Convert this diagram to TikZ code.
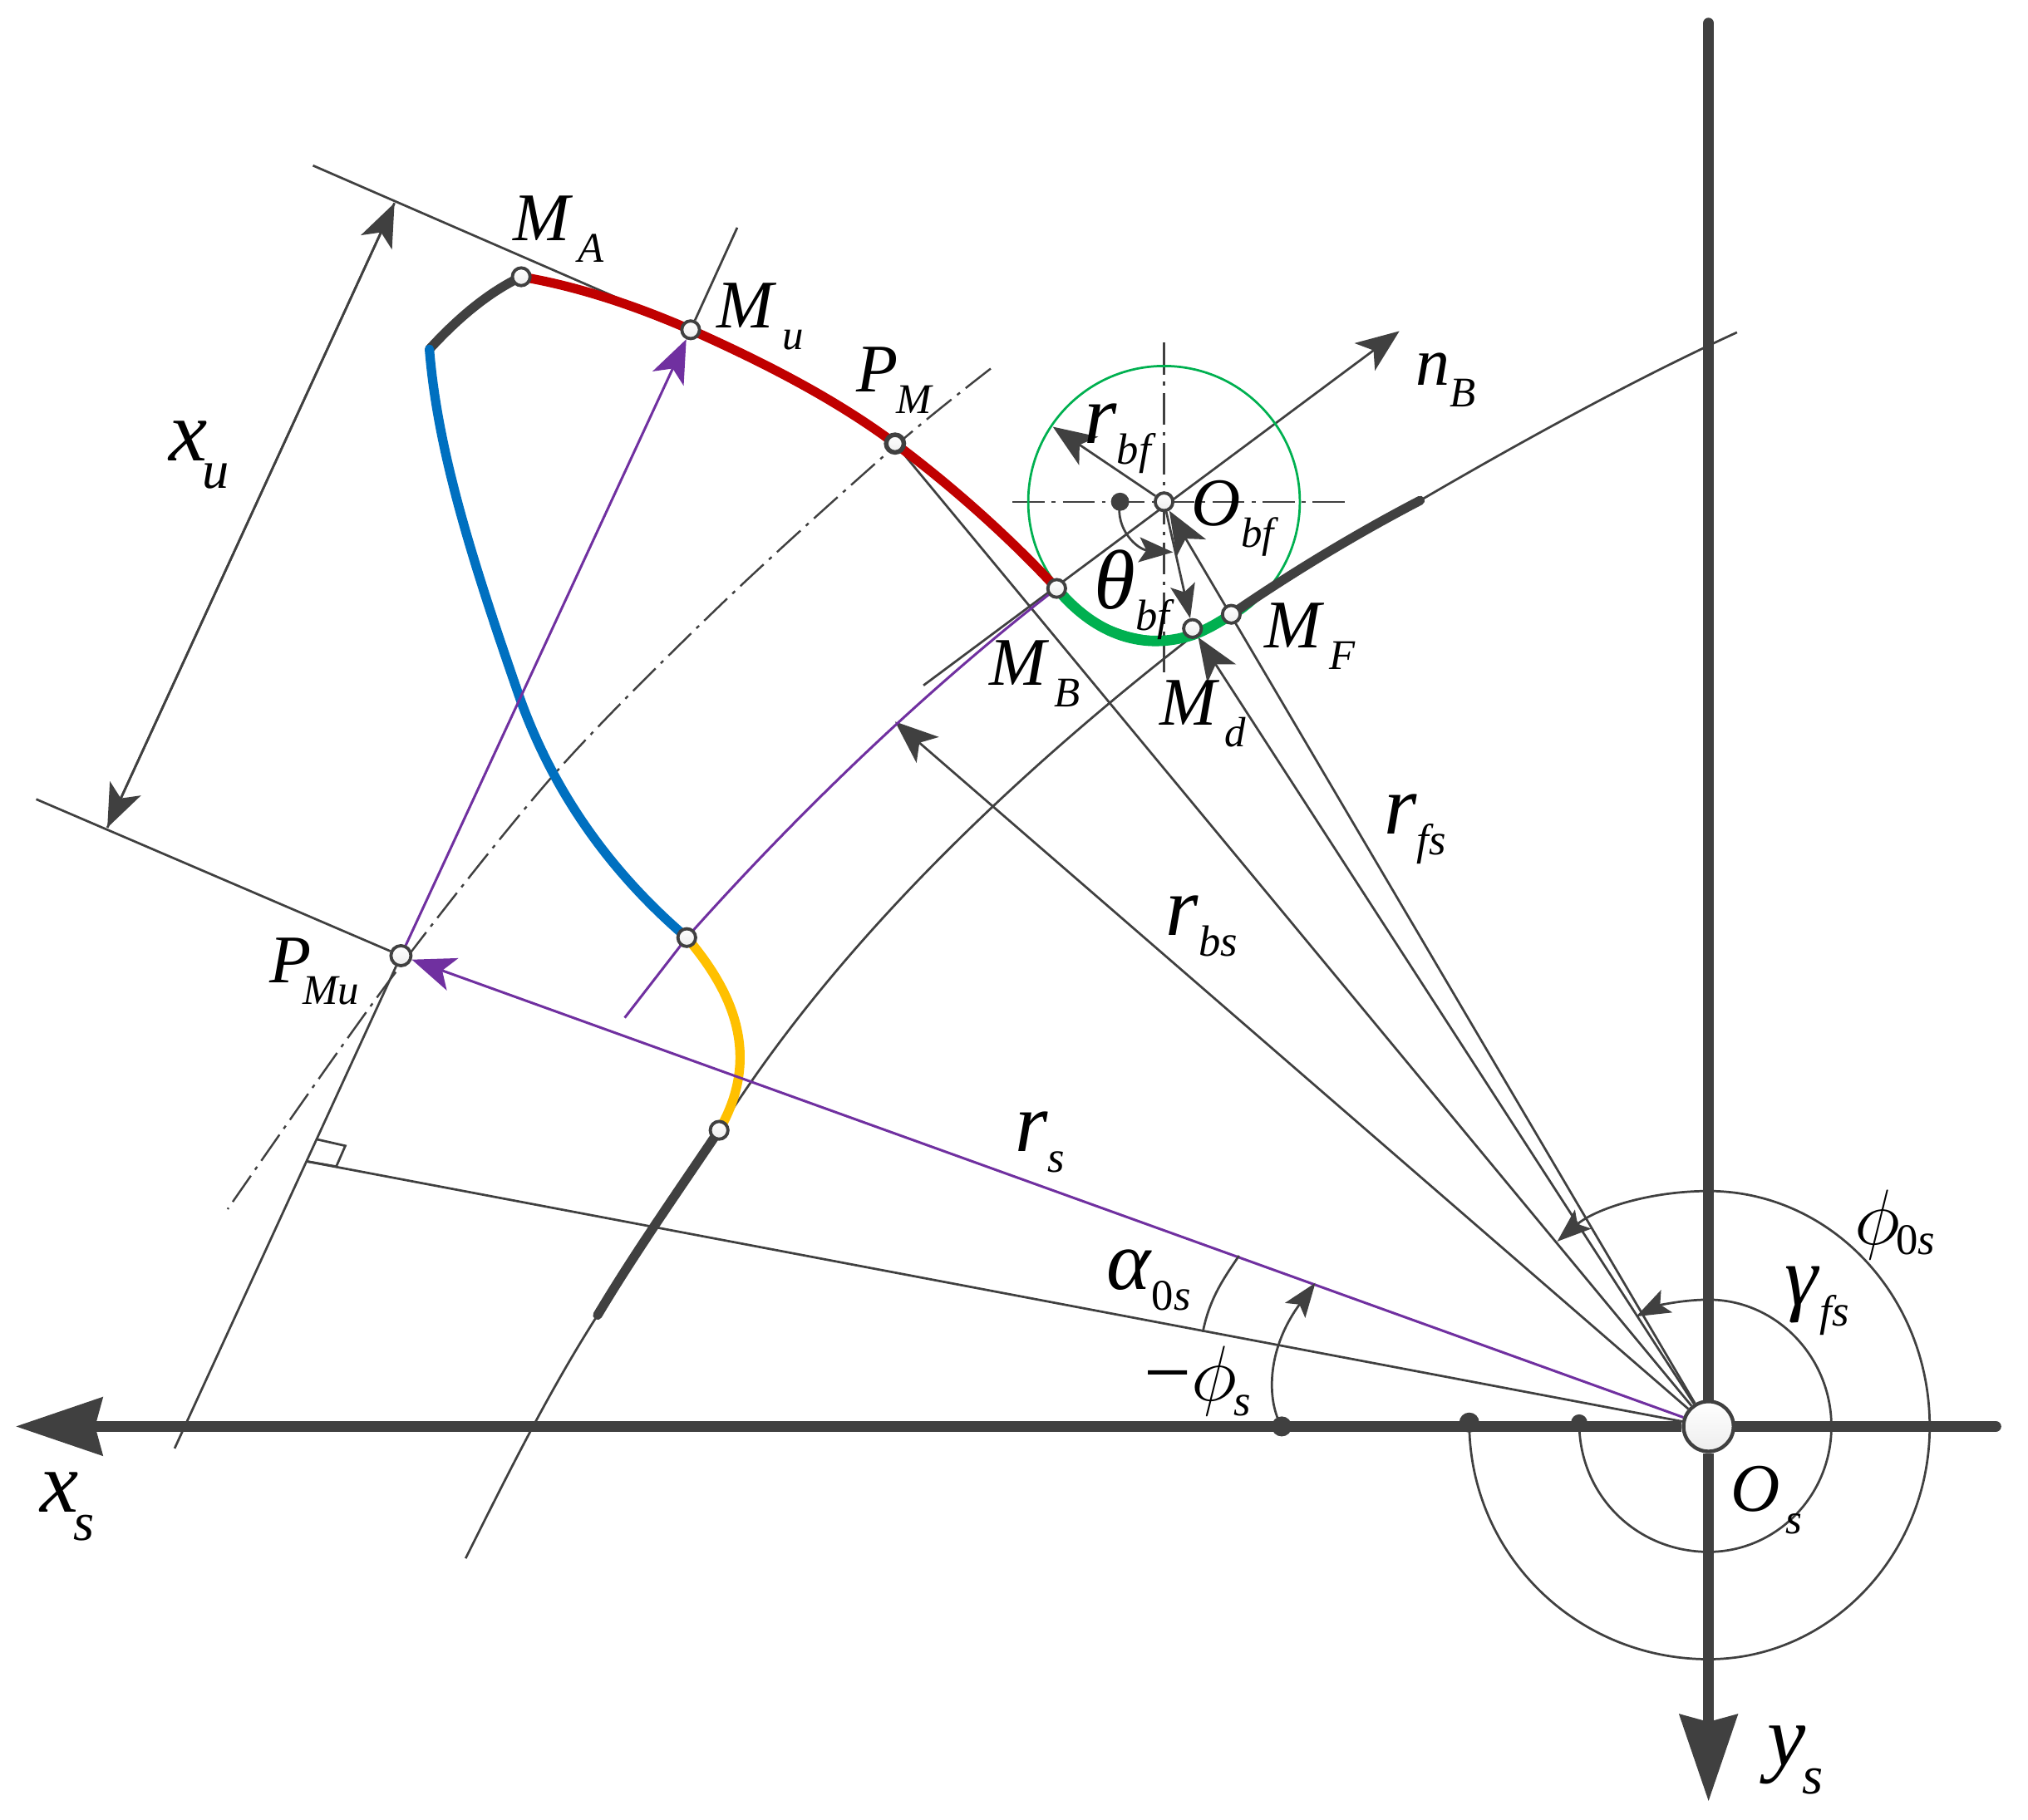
\documentclass[tikz,border=0pt]{standalone}
\usepackage{fontspec}
\setmainfont{Liberation Serif}
\definecolor{darkline}{RGB}{64, 64, 64}
\definecolor{toothred}{RGB}{192, 0, 0}
\definecolor{toothblue}{RGB}{0, 112, 192}
\definecolor{toothgold}{RGB}{255, 192, 0}
\definecolor{toothgreen}{RGB}{0, 176, 80}
\definecolor{basepurple}{RGB}{112, 48, 160}
\usetikzlibrary{arrows.meta, backgrounds, calc}
\newcommand{\sym}[3][0.08em]{\textit{#2}\kern#1\raisebox{-0.32em}{\scalebox{0.62}{\textit{#3}}}}
\newcommand{\symg}[3][0.25em]{\textit{#2}\raisebox{-#1}{\scalebox{0.52}{\textit{#3}}}}

\begin{document}
\begin{tikzpicture}[
    x=0.1mm, y=-0.1mm,
    thinline/.style={darkline, line width=0.5pt},
    axisline/.style={darkline, line width=2.45pt},
    thickcurve/.style={line width=2.05pt, line cap=round},
    centerline/.style={darkline, line width=0.45pt, dash pattern=on 7pt off 1.6pt on 0.8pt off 1.6pt},
    purpleline/.style={basepurple, line width=0.55pt},
    arrow/.style={-{Stealth[length=9.5pt, width=7.5pt, inset=2.4pt]}},
    smallarrow/.style={-{Stealth[length=7.5pt, width=5.5pt, inset=1.6pt]}},
    axisarrow/.style={-{Stealth[length=19pt, width=12.5pt, inset=1.5pt]}},
    marker/.style={circle, draw=darkline, line width=0.7pt, top color=white, bottom color=black!7,
                   minimum size=3.9pt, inner sep=0pt},
    dotmark/.style={circle, fill=darkline, inner sep=0pt},
    lab/.style={font=\fontsize{15}{18}\selectfont, inner sep=0pt},
    greeklab/.style={font=\fontsize{18.5}{22}\selectfont, inner sep=0pt},
    biglab/.style={font=\fontsize{19}{23}\selectfont, inner sep=0pt}
]
    \useasboundingbox (0,0) rectangle (1568,1407);

    % points on the profile
    \node[marker, minimum size=11pt, line width=0.8pt] (Os) at (1321,1103) {};
    \node[marker] (Obf) at (900,388) {};
    \node[marker] (MA) at (403,214) {};
    \node[marker] (Mu) at (534,255) {};
    \node[marker, line width=1pt] (PM) at (692,343) {};
    \node[marker] (MB) at (817,455) {};
    \node[marker] (Md) at (922,486) {};
    \node[marker] (MF) at (952,475) {};
    \node[marker] (blueend) at (531,725) {};
    \node[marker] (goldend) at (556,874) {};
    \node[marker, minimum size=4.4pt] (PMu) at (310,739) {};
    \node[dotmark, minimum size=4.4pt] (dotphi) at (991,1103) {};
    \node[dotmark, minimum size=4.4pt] (dotphizero) at (1136,1100) {};
    \node[dotmark, minimum size=3.6pt] (dotgamma) at (1221,1100) {};
    \node[dotmark, minimum size=4pt] (dottheta) at (866,388) {};

    \node[lab] (labMA) at (432,177) {\sym{M}{A}};
    \node[lab] (labMu) at (588,245) {\sym{M}{u}};
    \node[lab] (labPM) at (692,294) {\sym[-0.02em]{P}{M}};
    \node[greeklab] (labrbf) at (866,339) {\symg{r}{bf}};
    \node[lab] (labObf) at (955,401) {\sym[0em]{O}{bf}};
    \node[greeklab] (labtheta) at (877,460) {\symg{θ}{bf}};
    \node[lab] (labMF) at (1013,492) {\sym{M}{F}};
    \node[lab] (labMB) at (800,521) {\sym{M}{B}};
    \node[lab] (labMd) at (930,552) {\sym{M}{d}};
    \node[lab] (labnB) at (1118,294) {\sym[0em]{n}{B}};
    \node[greeklab] (labrfs) at (1094,641) {\symg{r}{fs}};
    \node[greeklab] (labrbs) at (929,716) {\symg{r}{bs}};
    \node[greeklab] (labrs) at (804,883) {\symg{r}{s}};
    \node[greeklab] (labalpha) at (888,990) {\symg{α}{\textup{0}s}};
    \node[greeklab] (labphizero) at (1465,947) {\symg[0.12em]{$\phi$\kern-0.05em}{\textup{0}s}};
    \node[greeklab] (labgamma) at (1405,1006) {\symg{γ}{fs}};
    \node[greeklab] (labphi) at (926,1068) {−\symg[0.18em]{$\phi$\kern-0.04em}{s}};
    \node[lab] (labPMu) at (243,751) {\sym[-0.12em]{P}{Mu}};
    \node[lab] (labOs) at (1366,1160) {\sym{O}{s}};
    \node[biglab] (labxu) at (154,352) {\sym[-0.06em]{x}{u}};
    \node[biglab] (labxs) at (52,1165) {\sym[-0.06em]{x}{s}};
    \node[biglab] (labys) at (1388,1361) {\sym[-0.04em]{y}{s}};

    \coordinate (xtip) at (12,1103);
    \coordinate (xright) at (1543,1103);
    \coordinate (ytip) at (1321,1393);
    \coordinate (ytop) at (1321,18);
    \coordinate (upperstart) at (242,128);
    \coordinate (lowerstart) at (28,618);
    \coordinate (muend) at (570,176);
    \coordinate (pmuend) at (135,1120);
    \coordinate (xuA) at (305,157);
    \coordinate (xuB) at (83,640);
    \coordinate (foot) at (237,898);
    \coordinate (rbstip) at (692,558);
    \coordinate (rbftip) at (814,330);
    \coordinate (nBstart) at (714,530);
    \coordinate (nBtip) at (1082,256);

    \begin{scope}[on background layer]
        % axes
        \draw[axisline, axisarrow] (Os) -- (xtip);
        \draw[axisline, axisarrow] (Os) -- (ytip);
        \draw[axisline, line cap=round] (Os) -- (xright);
        \draw[axisline, line cap=round] (Os) -- (ytop);

        % construction lines
        \draw[thinline] (upperstart) -- (Mu);
        \draw[thinline] (lowerstart) -- (PMu);
        \draw[thinline] (muend) -- (Mu);
        \draw[thinline] (PMu) -- (pmuend);
        \draw[thinline] (PM) -- (Os);
        \draw[thinline] (Os) -- (foot);
        \draw[thinline] (foot) -- (260,902) -- (267,886) -- (245,881);
        \draw[thinline, arrow] (xuA) -- (xuB);
        \draw[thinline, arrow] (xuB) -- (xuA);
        \draw[thinline, arrow] (Os) -- (rbstip);
        \draw[thinline, arrow] (Os) -- (Md);
        \draw[thinline, arrow] (Os) -- (Obf);
        \draw[thinline, smallarrow] (Obf) -- (Md);
        \draw[thinline, arrow] (Obf) -- (rbftip);
        \draw[thinline, arrow] (nBstart) -- (nBtip);

        % center lines and pitch curve
        \draw[centerline] (783,388) -- (1042,388);
        \draw[centerline] (900,265) -- (900,520);
        \draw[centerline] plot[smooth] coordinates {(766,285) (692,345) (560,465) (430,597) (302,757) (176,935)};
        \draw[toothgreen, line width=0.5pt] (Obf.center) circle[radius=105];

        % base and root curves
        \draw[purpleline] (483,787) -- (blueend.center) .. controls (620,625) and (720,530) .. (MB.center);
        \draw[thinline] (360,1205) .. controls (395,1135) and (425,1075) .. (462,1017)
            .. controls (490,970) and (525,920) .. (goldend.center)
            .. controls (640,740) and (770,610) .. (922,492);
        \draw[thinline] (MF.center) .. controls (1000,442) and (1050,412) .. (1098,387)
            .. controls (1170,345) and (1260,295) .. (1343,257);

        % tooth profile
        \draw[darkline, thickcurve] (462,1017) .. controls (490,970) and (525,920) .. (goldend.center);
        \draw[darkline, thickcurve] (MF.center) .. controls (1000,442) and (1050,412) .. (1098,387);
        \draw[darkline, thickcurve] (332,270) .. controls (355,245) and (378,226) .. (MA.center);
        \draw[toothred, thickcurve] (MA.center) .. controls (450,222) and (495,238) .. (Mu.center)
            .. controls (590,280) and (645,308) .. (PM.center)
            .. controls (735,375) and (780,415) .. (MB.center);
        \draw[toothblue, thickcurve] (332,270) .. controls (338,345) and (362,425) .. (402,540)
            .. controls (420,590) and (455,660) .. (blueend.center);
        \draw[toothgold, thickcurve] (blueend.center) .. controls (565,765) and (590,815) .. (goldend.center);
        \draw[toothgreen, thickcurve, line width=2.3pt] (MB.center) .. controls (848,492) and (885,503) .. (922,491)
            .. controls (933,487) and (943,481) .. (MF.center);

        % purple radii
        \draw[purpleline, arrow] (Os) -- (PMu);
        \draw[purpleline, arrow] (PMu) -- (Mu);

        % angles
        \draw[thinline] (dotphizero.center) .. controls (1136,1202) and (1219,1283) .. (1321,1283)
            .. controls (1415,1283) and (1492,1202) .. (1492,1103)
            .. controls (1492,1002) and (1415,921) .. (1321,921);
        \draw[thinline, smallarrow] (1321,921) .. controls (1275,921) and (1233,935) .. (1204,960);
        \draw[thinline] (dotgamma.center) .. controls (1221,1157) and (1266,1200) .. (1321,1200)
            .. controls (1373,1200) and (1416,1157) .. (1416,1103)
            .. controls (1416,1049) and (1373,1005) .. (1321,1005);
        \draw[thinline, smallarrow] (1321,1005) .. controls (1300,1005) and (1281,1010) .. (1265,1018);
        \draw[thinline, smallarrow] (dotphi.center) .. controls (980,1085) and (978,1045) .. (1017,992);
        \draw[thinline] (930,1030) .. controls (935,1005) and (945,990) .. (958,971);
        \draw[thinline, smallarrow] (dottheta.center) .. controls (862,410) and (880,425) .. (907,427);
    \end{scope}
\end{tikzpicture}
\end{document}
